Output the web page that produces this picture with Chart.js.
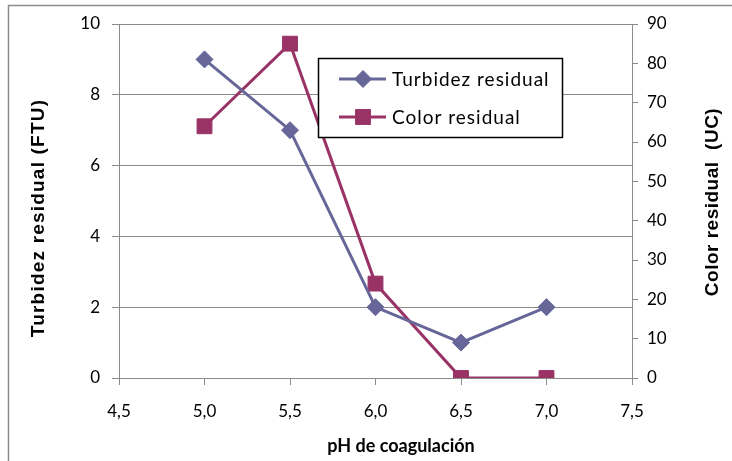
<!DOCTYPE html>
<html><head><meta charset="utf-8">
<script src="https://cdn.jsdelivr.net/npm/chart.js@4/dist/chart.umd.min.js"></script>
<style>html,body{margin:0;padding:0;background:#fff}canvas{display:block}</style>
</head><body>
<canvas id="c" width="732" height="461"></canvas>
<script>
const phValues = [5.0, 5.5, 6.0, 6.5, 7.0];
const turbidez = [9, 7, 2, 1, 2];
const colorRes = [64, 85, 24, 0, 0];
const seriesNames = ['Turbidez residual', 'Color residual'];
const xTitle = 'pH de coagulación';
const yLeftTitle = 'Turbidez residual (FTU)';
const yRightTitle = 'Color residual  (UC)';

const C1 = '#666699', C2 = '#993366';
const GRID = '#8a8a8a';
const TICKFONT = {family: 'Lato', size: 17};

const toPts = (ys) => phValues.map((x, i) => ({x, y: ys[i]}));

const decor = {
  id: 'decor',
  beforeDraw(chart) {
    const ctx = chart.ctx;
    ctx.save();
    ctx.fillStyle = '#fff';
    ctx.fillRect(0, 0, chart.width, chart.height);
    ctx.strokeStyle = '#8c8c8c';
    ctx.lineWidth = 1.5;
    ctx.strokeRect(8.5, 5.5, 760, 500);
    ctx.restore();
  },
  afterDraw(chart) {
    const ctx = chart.ctx;
    ctx.save();
    // axis titles
    ctx.fillStyle = '#000';
    ctx.textAlign = 'center';
    ctx.textBaseline = 'middle';
    ctx.font = 'bold 19px "Liberation Sans"';
    ctx.letterSpacing = '1.2px';
    ctx.save(); ctx.translate(39, 218); ctx.rotate(-Math.PI / 2); ctx.fillText(yLeftTitle, 0, 0); ctx.restore();
    ctx.letterSpacing = '0.5px';
    ctx.save(); ctx.translate(713, 202); ctx.rotate(-Math.PI / 2); ctx.fillText(yRightTitle, 0, 0); ctx.restore();
    ctx.letterSpacing = '0px';
    ctx.font = 'bold 18px Lato';
    ctx.fillText(xTitle, 401, 446);
    // legend
    const lx = 318.5, ly = 58.5, lw = 244, lh = 79;
    ctx.fillStyle = '#fff';
    ctx.fillRect(lx, ly, lw, lh);
    ctx.strokeStyle = '#000';
    ctx.lineWidth = 1.5;
    ctx.strokeRect(lx, ly, lw, lh);
    const rows = [79, 117];
    chart.data.datasets.forEach((ds, i) => {
      const y = rows[i];
      ctx.strokeStyle = ds.borderColor;
      ctx.lineWidth = 3;
      ctx.beginPath(); ctx.moveTo(339, y); ctx.lineTo(386, y); ctx.stroke();
      ctx.fillStyle = ds.backgroundColor;
      ctx.strokeStyle = ds.borderColor;
      ctx.lineWidth = 1;
      Chart.helpers.drawPoint(ctx, {pointStyle: ds.pointStyle, radius: ds.pointRadius, borderWidth: 1}, 363, y);
      ctx.fillStyle = '#000';
      ctx.font = '19px Lato';
      ctx.letterSpacing = '1px';
      ctx.textAlign = 'left';
      ctx.textBaseline = 'middle';
      ctx.fillText(ds.label, 392, y + 1);
      ctx.letterSpacing = '0px';
    });
    ctx.restore();
  }
};

new Chart(document.getElementById('c'), {
  type: 'scatter',
  data: {
    datasets: [
      {label: seriesNames[0], data: toPts(turbidez), yAxisID: 'y', showLine: true,
       borderColor: C1, backgroundColor: C1, borderWidth: 3, pointStyle: 'rectRot', pointRadius: 8.5, pointBorderWidth: 1},
      {label: seriesNames[1], data: toPts(colorRes), yAxisID: 'y2', showLine: true,
       borderColor: C2, backgroundColor: C2, borderWidth: 3, pointStyle: 'rect', pointRadius: 10.5, pointBorderWidth: 1}
    ]
  },
  options: {
    responsive: false,
    animation: false,
    layout: {padding: {top: 24, left: 0, right: 0, bottom: 0}},
    plugins: {legend: {display: false}, tooltip: {enabled: false}},
    scales: {
      x: {
        type: 'linear', min: 4.5, max: 7.5,
        ticks: {stepSize: 0.5, font: TICKFONT, color: '#000', padding: 16,
                callback: v => v.toFixed(1).replace('.', ',')},
        grid: {drawOnChartArea: false, color: GRID, tickLength: 7},
        border: {color: GRID, width: 1},
        afterFit: s => { s.height = 83; }
      },
      y: {
        position: 'left', min: 0, max: 10,
        ticks: {stepSize: 2, font: TICKFONT, color: '#000', padding: 12},
        grid: {color: GRID, tickLength: 7},
        border: {color: GRID, width: 1},
        afterFit: s => { s.width = 119; }
      },
      y2: {
        position: 'right', min: 0, max: 90,
        ticks: {stepSize: 10, font: TICKFONT, color: '#000', padding: 9},
        grid: {drawOnChartArea: false, color: GRID, tickLength: 6},
        border: {color: GRID, width: 1},
        afterFit: s => { s.width = 100; }
      }
    }
  },
  plugins: [decor]
});
</script>
</body></html>
